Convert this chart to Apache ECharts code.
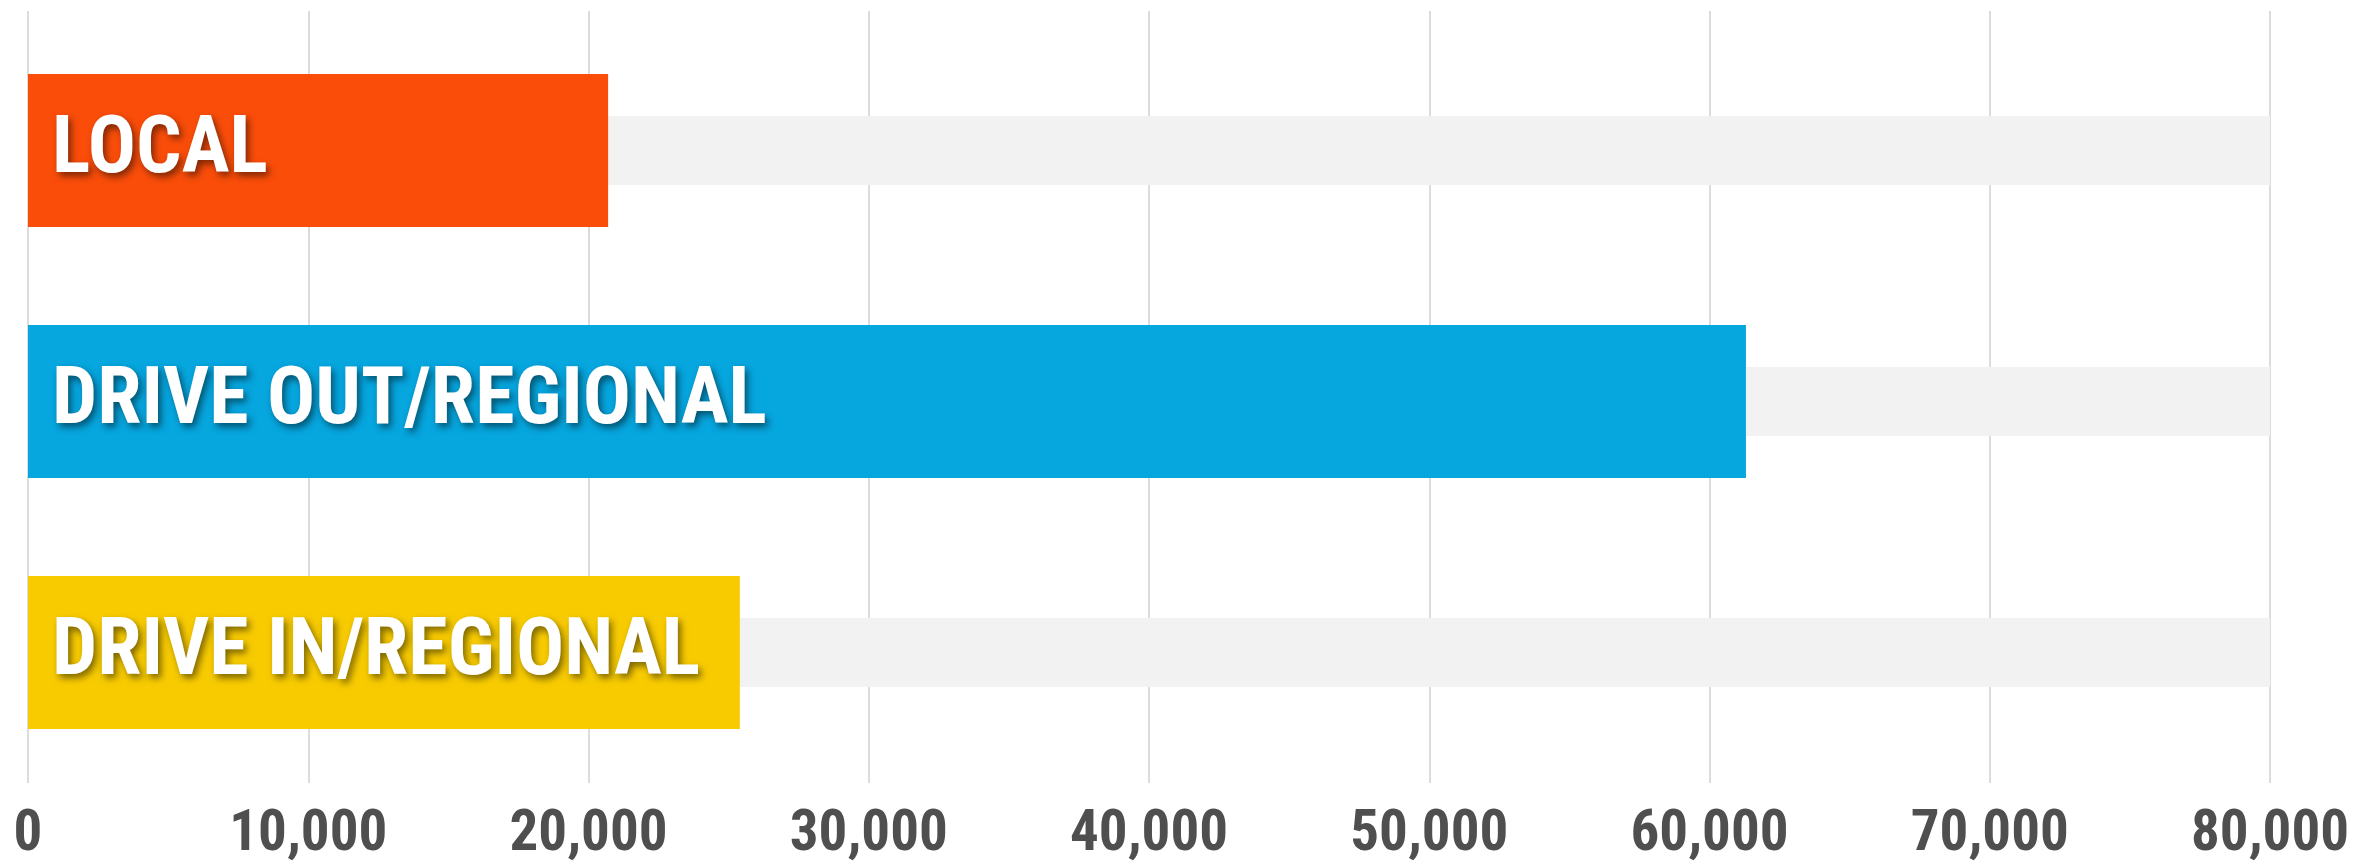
<!DOCTYPE html>
<html>
<head>
    <meta charset="utf-8">
    <title>Visitors by origin</title>
    <script src="https://cdn.jsdelivr.net/npm/echarts@6/dist/echarts.min.js"></script>
    <style>
        html, body { margin: 0; padding: 0; background: #fff; }
    </style>
</head>
<body>
<div id="main" style="width: 2357px;height:864px;"></div>
<script type="text/javascript">
    // data
    var categories = ['LOCAL', 'DRIVE OUT/REGIONAL', 'DRIVE IN/REGIONAL'];
    var visitors = [20700, 61300, 25400];
    var track = [80000, 80000, 80000];
    var barColors = ['#FA4D0A', '#06A6DF', '#F8CB00'];
    var axisMax = 80000;
    var axisStep = 10000;

    var labelFont = "'Roboto Condensed', Roboto, 'DejaVu Sans Condensed', sans-serif";

    var myChart = echarts.init(document.getElementById('main'));

    var option = {
        backgroundColor: '#ffffff',
        animation: false,
        grid: [
            // grid 0 only carries the vertical lines and the tick labels
            {left: 28, right: 87, top: 11, bottom: 72},
            // grid 1 holds the bars
            {left: 28, right: 87, top: 25, bottom: 86}
        ],
        xAxis: [
            {
                gridIndex: 0,
                type: 'value',
                min: 0,
                max: axisMax,
                interval: axisStep,
                axisLine: {show: false},
                axisTick: {show: false},
                splitLine: {show: true, lineStyle: {color: '#dcdcdc', width: 2}},
                axisLabel: {
                    margin: 24,
                    color: '#4f4f4f',
                    fontSize: 57,
                    fontWeight: 'bold',
                    fontFamily: labelFont,
                    formatter: function (v) {
                        return v.toLocaleString('en-US');
                    }
                }
            },
            {
                gridIndex: 1,
                type: 'value',
                min: 0,
                max: axisMax,
                show: false,
                splitLine: {show: false}
            }
        ],
        yAxis: [
            {gridIndex: 0, type: 'value', show: false, splitLine: {show: false}},
            {gridIndex: 1, type: 'category', data: categories, inverse: true, show: false},
            {gridIndex: 1, type: 'category', data: categories, inverse: true, show: false}
        ],
        series: [
            {
                name: 'track',
                type: 'bar',
                xAxisIndex: 1,
                yAxisIndex: 2,
                barWidth: 69,
                silent: true,
                z: 1,
                itemStyle: {color: '#f2f2f2'},
                data: track
            },
            {
                name: 'visitors',
                type: 'bar',
                xAxisIndex: 1,
                yAxisIndex: 1,
                barWidth: 153,
                z: 2,
                itemStyle: {
                    color: function (p) { return barColors[p.dataIndex]; }
                },
                label: {
                    show: true,
                    position: 'insideLeft',
                    distance: 24,
                    formatter: '{b}',
                    color: '#ffffff',
                    fontSize: 80,
                    fontWeight: 'bold',
                    fontFamily: labelFont,
                    textShadowColor: 'rgba(0,0,0,0.5)',
                    textShadowBlur: 7,
                    textShadowOffsetX: 3,
                    textShadowOffsetY: 4,
                    offset: [0, 1]
                },
                data: visitors
            }
        ]
    };

    myChart.setOption(option);
</script>
</body>
</html>
